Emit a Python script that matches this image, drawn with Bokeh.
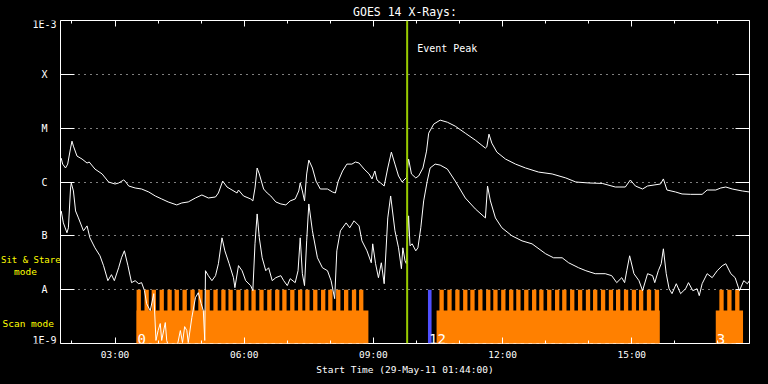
import math
from bokeh.plotting import figure
from bokeh.layouts import row
from bokeh.models import FixedTicker, LinearAxis, LogAxis, Label, Span, Range1d
from bokeh.core.properties import value
from bokeh.embed import file_html
from bokeh.resources import INLINE

# ------------------------------------------------------------------ data
title_text = "GOES 14 X-Rays:"
start_date = "29-May-11"
start_time = "01:44"
window_hours = 16

# long channel (1-8 A), minutes since start / flux in W m^-2
long_minutes = [1, 3, 7, 10, 14, 16, 18, 23, 30, 37, 40, 48, 58, 67, 76, 81, 88, 90, 95, 104,
                113, 123, 132, 141, 150, 162, 169, 178, 188, 197, 206, 216, 220, 226, 232, 239,
                246, 248, 255, 265, 268, 271, 274, 277, 283, 288, 293, 300, 307, 314, 320, 327,
                332, 334, 337, 340, 343, 346, 351, 356, 362, 372, 379, 383, 387, 393, 399, 406,
                411, 416, 423, 430, 434, 438, 441, 446, 451, 456, 461, 466, 471, 476, 480, 482,
                485, 489, 495, 499, 505, 510, 513, 520, 529, 539, 550, 564, 578, 592, 594, 597,
                601, 608, 620, 634, 648, 666, 685, 704, 718, 736, 755, 773, 787, 794, 801, 811,
                818, 827, 836, 840, 845, 857, 866, 878, 894, 901, 913, 920, 927, 936, 950, 960]
long_flux = [2.78e-6, 2.15e-6, 1.82e-6, 2.15e-6, 4.26e-6, 5.74e-6, 4.64e-6, 3.03e-6, 2.67e-6,
             2.25e-6, 2.35e-6, 1.74e-6, 1.41e-6, 1.0e-6, 9.18e-7, 9.58e-7, 1.09e-6, 1.04e-6,
             8.43e-7, 7.74e-7, 7.41e-7, 6.52e-7, 5.5e-7, 4.84e-7, 4.26e-7, 3.75e-7, 4.08e-7,
             4.26e-7, 5.05e-7, 5.74e-7, 5.05e-7, 5.27e-7, 6.25e-7, 1.04e-6, 8.07e-7, 7.1e-7,
             6.25e-7, 7.1e-7, 5.5e-7, 4.84e-7, 4.45e-7, 7.74e-7, 1.82e-6, 1.41e-6, 7.41e-7,
             6.25e-7, 5.5e-7, 4.26e-7, 3.91e-7, 3.75e-7, 4.45e-7, 4.84e-7, 6.81e-7, 9.6e-7,
             6.81e-7, 4.45e-7, 1.41e-6, 2.55e-6, 1.82e-6, 1.04e-6, 7.41e-7, 7.41e-7, 6.52e-7,
             6.25e-7, 1.04e-6, 1.6e-6, 2.15e-6, 2.15e-6, 2.35e-6, 2.25e-6, 1.74e-6, 1.41e-6,
             1.14e-6, 1.6e-6, 1.09e-6, 9.6e-7, 8.43e-7, 1.82e-6, 3.59e-6, 2.15e-6, 1.29e-6,
             1.0e-6, 1.14e-6, 1.19e-6, 2.67e-6, 1.41e-6, 1.19e-6, 1.29e-6, 1.82e-6, 3.75e-6,
             8.07e-6, 1.19e-5, 1.41e-5, 1.29e-5, 1.09e-5, 8.07e-6, 5.99e-6, 4.26e-6, 4.5e-6,
             7.74e-6, 5.27e-6, 3.59e-6, 2.67e-6, 2.15e-6, 1.82e-6, 1.53e-6, 1.41e-6, 1.19e-6,
             1.0e-6, 9.6e-7, 9.4e-7, 8.07e-7, 8.07e-7, 1.09e-6, 8.43e-7, 7.41e-7, 8.43e-7,
             8.79e-7, 9.18e-7, 1.14e-6, 7.1e-7, 6.52e-7, 5.99e-7, 5.9e-7, 5.9e-7, 7.1e-7, 7.1e-7,
             7.74e-7, 8.07e-7, 7.41e-7, 6.81e-7, 6.52e-7]

# short channel (0.5-4 A), minutes since start / flux in W m^-2
short_minutes = [1, 4, 9, 11, 14, 15, 18, 21, 25, 32, 37, 41, 48, 55, 60, 66, 71, 75, 81, 85,
                 89, 94, 99, 104, 109, 113, 117, 120, 125, 130, 133, 136, 139, 141, 146, 148,
                 153, 161, 167, 170, 173, 176, 178, 183, 188, 192, 196, 199, 201, 202, 206, 211,
                 216, 220, 225, 229, 235, 241, 243, 248, 253, 258, 265, 268, 271, 274, 277, 281,
                 286, 290, 295, 300, 307, 311, 316, 320, 327, 331, 334, 337, 340, 343, 346, 351,
                 358, 365, 372, 377, 382, 385, 390, 398, 403, 409, 416, 420, 427, 433, 435, 439,
                 443, 447, 451, 456, 460, 466, 471, 475, 477, 480, 482, 485, 487, 490, 495, 498,
                 502, 506, 511, 515, 522, 529, 539, 550, 564, 578, 592, 595, 599, 606, 615, 629,
                 643, 657, 676, 687, 699, 708, 722, 732, 745, 759, 768, 775, 782, 786, 789, 793,
                 799, 806, 811, 818, 825, 828, 833, 837, 840, 844, 848, 852, 858, 864, 871, 875,
                 881, 887, 890, 894, 901, 908, 915, 922, 927, 934, 940, 946, 952, 957, 960]
short_flux = [2.9e-7, 1.74e-7, 1.14e-7, 1.41e-7, 7.74e-7, 9.58e-7, 6.81e-7, 2.9e-7, 2.15e-7,
              1.24e-7, 1.53e-7, 9.18e-8, 5.99e-8, 4.26e-8, 2.78e-8, 1.47e-8, 1.9e-8, 1.47e-8,
              2.55e-8, 3.91e-8, 5.27e-8, 2.78e-8, 1.35e-8, 1.47e-8, 1.29e-8, 1.35e-8, 9.58e-9,
              5.5e-9, 4.08e-9, 8.43e-9, 1.14e-9, 1.74e-9, 2.35e-9, 1.14e-9, 2.45e-9, 1.14e-9,
              7e-10, 7e-10, 1.74e-9, 1.04e-9, 2.06e-9, 1.74e-9, 1.04e-9, 3.03e-9, 7.1e-9,
              8.79e-9, 5.5e-9, 4.08e-9, 1.14e-9, 2.25e-8, 1.82e-8, 1.47e-8, 1.82e-8, 3.03e-8,
              9.18e-8, 5.27e-8, 3.03e-8, 1.67e-8, 1.09e-8, 2.8e-8, 2.25e-8, 1.47e-8, 1.19e-8,
              9.58e-9, 7.1e-8, 2.55e-7, 9.18e-8, 3.91e-8, 2.25e-8, 2.55e-8, 1.47e-8, 1.67e-8,
              1.82e-8, 1.47e-8, 1.19e-8, 1.6e-8, 1.35e-8, 2.25e-8, 9.18e-8, 1.98e-8, 1.19e-8,
              8.07e-8, 3.91e-7, 1.24e-7, 3.91e-8, 2.55e-8, 2.25e-8, 1.47e-8, 6.81e-9, 5.27e-8,
              1.24e-7, 1.74e-7, 1.41e-7, 1.9e-7, 1.53e-7, 8.07e-8, 5.27e-8, 3.16e-8, 7.1e-8,
              3.03e-8, 1.67e-8, 3.16e-8, 1.29e-8, 2.15e-7, 5.5e-7, 1.24e-7, 5.99e-8, 2.45e-8,
              5.99e-8, 3.44e-8, 3.03e-8, 2.35e-7, 6.52e-8, 7.1e-8, 5.27e-8, 5.99e-8, 1.41e-7,
              4.45e-7, 1.04e-6, 1.82e-6, 2.15e-6, 2.06e-6, 1.74e-6, 1.04e-6, 5.05e-7, 3.16e-7,
              2.15e-7, 8.43e-7, 4.45e-7, 2.15e-7, 1.41e-7, 1.0e-7, 8.07e-8, 7.1e-8, 4.64e-8,
              3.91e-8, 3.91e-8, 3.16e-8, 2.55e-8, 2.25e-8, 1.98e-8, 1.98e-8, 1.82e-8, 1.35e-8,
              1.67e-8, 1.35e-8, 2.25e-8, 4.26e-8, 1.98e-8, 1.47e-8, 9.58e-9, 1.98e-8, 1.82e-8,
              1.35e-8, 2.25e-8, 3.03e-8, 5.74e-8, 1.98e-8, 1.04e-8, 8.43e-9, 1.29e-8, 8.43e-9,
              1.04e-8, 1.35e-8, 9.58e-9, 1.04e-8, 7.74e-9, 1.29e-8, 1.98e-8, 1.67e-8, 2.25e-8,
              2.78e-8, 3.03e-8, 1.98e-8, 1.67e-8, 9.58e-9, 1.47e-8, 1.29e-8, 1.47e-8]

# GOES class levels and their tick labels
goes_levels = [1e-3, 1e-4, 1e-5, 1e-6, 1e-7, 1e-8, 1e-9]
goes_labels = ["1E-3", "X", "M", "C", "B", "A", "1E-9"]
grid_levels = [1e-4, 1e-5, 1e-6, 1e-7, 1e-8]

# time axis ticks (hour of day)
xtick_hours = [3, 6, 9, 12, 15]
xtick_labels = ["03:00", "06:00", "09:00", "12:00", "15:00"]
xminor_hours = [2, 3, 4, 5, 6, 7, 8, 9, 10, 11, 12, 13, 14, 15, 16, 17]

event_peak_time = "09:47"
event_peak_text = "Event Peak"

# observation blocks
block_ids = ["0", "1", "2", "3"]
block_start = ["03:30", "10:16", "10:28", "16:57"]
block_end = ["08:53", "10:21", "15:39", "17:35"]
block_kind = ["scan", "other", "scan", "scan"]

# sit & stare pointings within the scan blocks
stare_start = ["03:30", "03:41", "03:51", "04:02", "04:13", "04:23", "04:34", "04:45", "04:56",
               "05:06", "05:17", "05:28", "05:38", "05:49", "06:00", "06:10", "06:21", "06:32",
               "06:43", "06:53", "07:04", "07:15", "07:25", "07:36", "07:47", "07:57", "08:08",
               "08:19", "08:30", "08:40",
               "10:32", "10:43", "10:54", "11:05", "11:15", "11:26", "11:37", "11:47", "11:58",
               "12:09", "12:19", "12:30", "12:41", "12:51", "13:02", "13:13", "13:23", "13:34",
               "13:45", "13:56", "14:06", "14:17", "14:28", "14:38", "14:49", "15:00", "15:10",
               "15:21", "15:32",
               "17:02", "17:13", "17:24"]
stare_minutes = 6

mode_labels = ["Sit & Stare", "mode", "Scan mode"]

# ------------------------------------------------------------------ helpers / styles
FONT = "DejaVu Sans Mono"
ORANGE = "#ff8000"
BLUE = "#5050ff"
GREEN = "#99cc00"
YELLOW = "#ffff00"


def hhmm(s):
    h, m = s.split(":")
    return int(h) + int(m) / 60.0


t0 = hhmm(start_time)
t1 = t0 + window_hours
YMIN, YMAX = goes_levels[-1], goes_levels[0]

W, H = 768, 384
LW = 60                      # width of the left label strip
FR, FT, FB = 19, 19, 41
FW, FH = W - LW - FR, H - FT - FB


def x_px(px):
    return t0 + (t1 - t0) * px / FW


def y_px(px):
    lo, hi = math.log10(YMIN), math.log10(YMAX)
    return 10 ** (hi - (hi - lo) * px / FH)


long_x = [t0 + m / 60.0 for m in long_minutes]
short_x = [t0 + m / 60.0 for m in short_minutes]

yr = Range1d(YMIN, YMAX)

p = figure(width=W - LW, height=H, x_range=Range1d(t0, t1), y_range=yr,
           y_axis_type="log", output_backend="svg", toolbar_location=None,
           background_fill_color="black", border_fill_color="black",
           outline_line_color="white", outline_line_width=1,
           min_border_left=0, min_border_right=FR, min_border_top=FT, min_border_bottom=FB,
           styles={"background-color": "black"})

p.title.text = title_text
p.title.text_color = "white"
p.title.text_font = FONT
p.title.text_font_size = "11.5px"
p.title.text_font_style = "normal"
p.title.align = "center"
p.title.standoff = 4

p.xgrid.grid_line_color = None
p.ygrid.ticker = FixedTicker(ticks=grid_levels)
p.ygrid.grid_line_color = "white"
p.ygrid.grid_line_dash = "1 5"
p.ygrid.grid_line_width = 1

# bottom axis
xa = p.xaxis[0]
xa.ticker = FixedTicker(ticks=xtick_hours, minor_ticks=xminor_hours)
xa.major_label_overrides = {h: lab for h, lab in zip(xtick_hours, xtick_labels)}
xa.axis_line_color = None
xa.major_tick_in, xa.major_tick_out = 6, 0
xa.minor_tick_in, xa.minor_tick_out = 3, 0
xa.major_tick_line_color = "white"
xa.minor_tick_line_color = "white"
xa.major_label_text_color = "white"
xa.major_label_text_font = FONT
xa.major_label_text_font_size = "9.5px"
xa.major_label_standoff = 5
xa.axis_label = "Start Time (%s %s:00)" % (start_date, start_time)
xa.axis_label_text_color = "white"
xa.axis_label_text_font = FONT
xa.axis_label_text_font_style = "normal"
xa.axis_label_text_font_size = "9.5px"
xa.axis_label_standoff = 1

# top axis (ticks only)
ta = LinearAxis(ticker=FixedTicker(ticks=xtick_hours, minor_ticks=xminor_hours),
                axis_line_color=None, major_tick_in=6, major_tick_out=0,
                minor_tick_in=3, minor_tick_out=0, major_tick_line_color="white",
                minor_tick_line_color="white", major_label_text_color=None,
                major_label_overrides={h: "" for h in xtick_hours},
                major_label_standoff=0)
p.add_layout(ta, "above")

# left axis (ticks only; its labels are in the strip on the left)
ya = p.yaxis[0]
ya.ticker = FixedTicker(ticks=goes_levels)
ya.axis_line_color = None
ya.major_tick_in, ya.major_tick_out = 14, 0
ya.minor_tick_line_color = None
ya.major_tick_line_color = "white"
ya.major_label_text_color = None
ya.major_label_overrides = {v: "" for v in goes_levels}
ya.major_label_standoff = 0

ra = LogAxis(ticker=FixedTicker(ticks=goes_levels), axis_line_color=None,
             major_tick_in=14, major_tick_out=0, minor_tick_line_color=None,
             major_tick_line_color="white", major_label_text_color=None,
             major_label_overrides={v: "" for v in goes_levels},
             major_label_standoff=0)
p.add_layout(ra, "right")

# observation blocks
scan_l = [hhmm(s) for s, k in zip(block_start, block_kind) if k == "scan"]
scan_r = [hhmm(e) for e, k in zip(block_end, block_kind) if k == "scan"]
other_l = [hhmm(s) for s, k in zip(block_start, block_kind) if k != "scan"]
other_r = [hhmm(e) for e, k in zip(block_end, block_kind) if k != "scan"]
BASE_TOP = y_px(FH - 33)
p.quad(left=scan_l, right=scan_r, bottom=YMIN, top=BASE_TOP, fill_color=ORANGE, line_color=None)
st_l = [hhmm(s) for s in stare_start]
st_r = [v + stare_minutes / 60.0 for v in st_l]
p.quad(left=st_l, right=st_r, bottom=YMIN, top=1e-8, fill_color=ORANGE, line_color=None)
p.quad(left=other_l, right=other_r, bottom=YMIN, top=1e-8, fill_color=BLUE, line_color=None)

p.text(x=[hhmm(s) for s in block_start], y=[YMIN] * len(block_start), text=block_ids,
       text_color="white", text_font=value(FONT), text_font_size="14px",
       text_align="left", text_baseline="alphabetic", x_offset=1, y_offset=-5)

# flux curves
p.line(long_x, long_flux, line_color="white", line_width=1)
p.line(short_x, short_flux, line_color="white", line_width=1)

# event peak
ev = hhmm(event_peak_time)
p.add_layout(Span(location=ev, dimension="height", line_color=GREEN, line_width=2))
p.add_layout(Label(x=ev + (t1 - t0) * 10 / FW, y=y_px(27.7), text=event_peak_text,
                   text_color="white", text_font=FONT, text_font_size="10px",
                   text_align="left", text_baseline="alphabetic"))

# ------------------------------------------------------------------ left label strip
lp = figure(width=LW, height=H, x_range=Range1d(0, LW), y_range=yr, y_axis_type="log",
            output_backend="svg", toolbar_location=None, x_axis_location=None,
            y_axis_location=None, background_fill_color="black", border_fill_color="black",
            outline_line_color=None, min_border_left=0, min_border_right=0,
            min_border_top=FT, min_border_bottom=FB, styles={"background-color": "black"})
lp.grid.visible = False

label_y = list(goes_levels)
label_y[0] = y_px(4)
label_y[-1] = y_px(FH - 3)
lp.text(x=[44] * len(goes_labels), y=label_y, text=goes_labels, text_color="white",
        text_font=value(FONT), text_font_size="10px", text_align="center",
        text_baseline="middle")

lp.text(x=[0.5], y=[y_px(240)], text=[mode_labels[0]], text_color=YELLOW,
        text_font=value(FONT), text_font_size="9px", text_align="left", text_baseline="middle")
lp.text(x=[13.5, 2], y=[y_px(252), y_px(304)], text=mode_labels[1:], text_color=YELLOW,
        text_font=value(FONT), text_font_size="9.5px", text_align="left",
        text_baseline="middle")

layout = row(lp, p, spacing=0, styles={"background-color": "black"})
open("out.html", "w").write(file_html(layout, INLINE, title="GOES 14 X-Rays"))
